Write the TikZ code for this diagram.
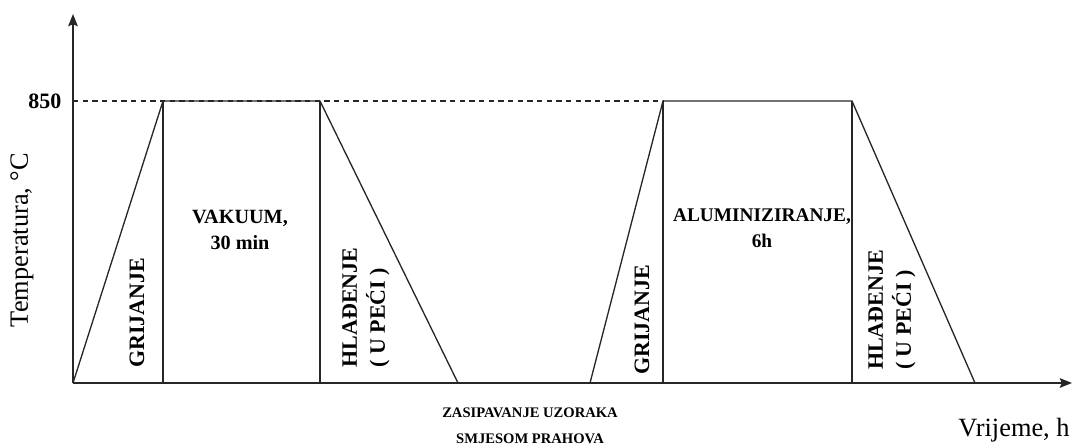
\documentclass[tikz,border=0pt]{standalone}
\usepackage{fontspec}
\setmainfont{Liberation Serif}
\usepackage{tikz}
\usetikzlibrary{arrows.meta}

\begin{document}
\begin{tikzpicture}[>={Stealth[length=7pt, width=5.5pt, inset=1.2pt]}, line width=0.75pt, black!85]
    \tikzstyle{phase} = [font=\bfseries\fontsize{11.5}{14.6}\selectfont, align=center,
	inner sep=0pt, text=black]
    \tikzstyle{vphase} = [font=\bfseries\fontsize{12.5}{16}\selectfont, align=left,
	rotate=90, inner sep=0pt, text=black]
    \tikzstyle{axislabel} = [font=\fontsize{15}{18}\selectfont, inner sep=0pt, text=black]
	\useasboundingbox (-1.46,-1.28) rectangle (20.04,7.66);
	% axes and plateau level
	\coordinate (O) at (0,0);
	\coordinate (Ytop) at (0,7.38);
	\coordinate (Xend) at (19.98,0);
	\coordinate (L) at (0,5.64);
	% first cycle
	\coordinate (A1) at (1.80,5.64);
	\coordinate (B1) at (4.94,5.64);
	\coordinate (C1) at (7.70,0);
	\coordinate (A1b) at (1.80,0);
	\coordinate (B1b) at (4.94,0);
	% second cycle
	\coordinate (S2) at (10.34,0);
	\coordinate (A2) at (11.80,5.64);
	\coordinate (B2) at (15.58,5.64);
	\coordinate (C2) at (18.04,0);
	\coordinate (A2b) at (11.80,0);
	\coordinate (B2b) at (15.58,0);
	\draw[->] (O) -- (Ytop);
	\draw[->] (O) -- (Xend);
	\draw[dash pattern=on 3pt off 2.5pt, line width=0.6pt] (L) -- (A2);
	\draw (O) -- (A1) -- (B1) -- (C1);
	\draw (A1) -- (A1b) (B1) -- (B1b);
	\draw (S2) -- (A2) -- (B2) -- (C2);
	\draw (A2) -- (A2b) (B2) -- (B2b);
	% labels
	\node[axislabel, font=\bfseries\fontsize{12.5}{15}\selectfont, anchor=east] (t850) at (-0.22,5.64) {850};
	\node[axislabel, rotate=90] (ylab) at (-1.02,2.86) {Temperatura, °C};
	\node[axislabel] (xlab) at (18.82,-0.94) {Vrijeme, h};
	\node[vphase] (g1) at (1.28,1.40) {GRIJANJE};
	\node[phase] (vak) at (3.34,3.06) {VAKUUM,\\30 min};
	\node[vphase] (h1) at (5.86,1.51) {HLAĐENJE\\( U PEĆI )};
	\node[vphase] (g2) at (11.38,1.26) {GRIJANJE};
	\node[phase, font=\bfseries\fontsize{11}{14.6}\selectfont] (alu) at (13.78,3.09) {ALUMINIZIRANJE,\\6h};
	\node[vphase] (h2) at (16.38,1.46) {HLAĐENJE\\( U PEĆI )};
	\node[phase, font=\bfseries\fontsize{8.3}{15}\selectfont] (zas) at (9.14,-0.86) {ZASIPAVANJE UZORAKA\\SMJESOM PRAHOVA};
\end{tikzpicture}
\end{document}
